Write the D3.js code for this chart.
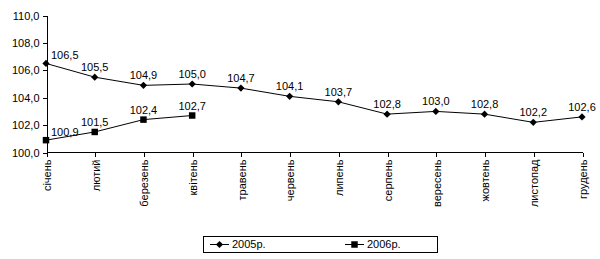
<!DOCTYPE html>
<html>
<head>
<meta charset="utf-8">
<script src="https://cdn.jsdelivr.net/npm/d3@7"></script>
<style>
  body { margin: 0; background: #fff; }
  svg { font-family: "Liberation Sans", Arial, sans-serif; font-size: 11px; }
  .axis path, .axis line { stroke: #000; shape-rendering: crispEdges; }
  .axis text { fill: #000; font-size: 11px; }
</style>
</head>
<body>
<svg id="chart" width="600" height="259"></svg>
<script>
var months = ["січень", "лютий", "березень", "квітень", "травень", "червень",
              "липень", "серпень", "вересень", "жовтень", "листопад", "грудень"];
var values2005 = [106.5, 105.5, 104.9, 105.0, 104.7, 104.1, 103.7, 102.8, 103.0, 102.8, 102.2, 102.6];
var values2006 = [100.9, 101.5, 102.4, 102.7];
var yTicks = [100, 102, 104, 106, 108, 110];
var seriesNames = ["2005р.", "2006р."];

var locale = d3.formatLocale({decimal: ",", thousands: " ", grouping: [3], currency: ["", ""]});
var fmt = locale.format(".1f");

var svg = d3.select("#chart");

var x = d3.scalePoint().domain(months).range([46, 582]),
    y = d3.scaleLinear().domain([100, 110]).range([152.5, 15.5]);

// y axis
svg.append("g")
    .attr("class", "axis")
    .attr("transform", "translate(46.5,0)")
    .call(d3.axisLeft(y).tickValues(yTicks).tickFormat(fmt).tickSize(4).tickSizeOuter(0).tickPadding(3));

// x axis
var xAxis = svg.append("g")
    .attr("class", "axis")
    .attr("transform", "translate(0.5," + 152.5 + ")")
    .call(d3.axisBottom(x).tickSize(4).tickSizeOuter(0));

xAxis.select(".domain").attr("d", "M" + 46 + ",0H" + 582);

xAxis.selectAll(".tick text")
    .attr("transform", "rotate(-90)")
    .attr("text-anchor", "end")
    .attr("x", -7)
    .attr("y", 0)
    .attr("dy", "0.35em");

var line = d3.line()
    .x(function(d, i) { return x(months[i]); })
    .y(function(d) { return y(d); });

// excel-ish markers: square turned 45deg for the diamond
var diamond = d3.symbol().type(d3.symbolSquare).size(26);
var square = d3.symbol().type(d3.symbolSquare).size(42);

function drawSeries(vals, sym, rot) {
  var g = svg.append("g");
  g.append("path")
      .datum(vals)
      .attr("d", line)
      .attr("fill", "none")
      .attr("stroke", "#000")
      .attr("stroke-width", 1);
  g.selectAll(".pt")
      .data(vals)
      .enter().append("path")
      .attr("class", "pt")
      .attr("d", sym)
      .attr("fill", "#000")
      .attr("transform", function(d, i) { return "translate(" + x(months[i]) + "," + y(d) + ") rotate(" + rot + ")"; });
  g.selectAll(".lbl")
      .data(vals)
      .enter().append("text")
      .attr("class", "lbl")
      .attr("fill", "#000")
      .attr("x", function(d, i) { return i === 0 ? x(months[i]) + 5 : x(months[i]); })
      .attr("y", function(d, i) { return i === 0 ? y(d) - 4 : y(d) - 6; })
      .attr("text-anchor", function(d, i) { return i === 0 ? "start" : "middle"; })
      .text(function(d) { return fmt(d); });
}

drawSeries(values2005, diamond, 45);
drawSeries(values2006, square, 0);

// legend
var legend = svg.append("g");
legend.append("rect")
    .attr("x", 203.5).attr("y", 236.5)
    .attr("width", 234).attr("height", 16)
    .attr("fill", "#fff").attr("stroke", "#000");

var syms = [diamond, square], rots = [45, 0];
seriesNames.forEach(function(name, i) {
  var lx = 210 + i * 135;
  var item = legend.append("g").attr("transform", "translate(" + lx + ",244.5)");
  item.append("line").attr("x1", 0).attr("x2", 19).attr("stroke", "#000");
  item.append("path").attr("d", syms[i]).attr("transform", "translate(9.5,0) rotate(" + rots[i] + ")").attr("fill", "#000");
  item.append("text").attr("x", 22).attr("dy", "0.35em").text(name);
});
</script>
</body>
</html>
